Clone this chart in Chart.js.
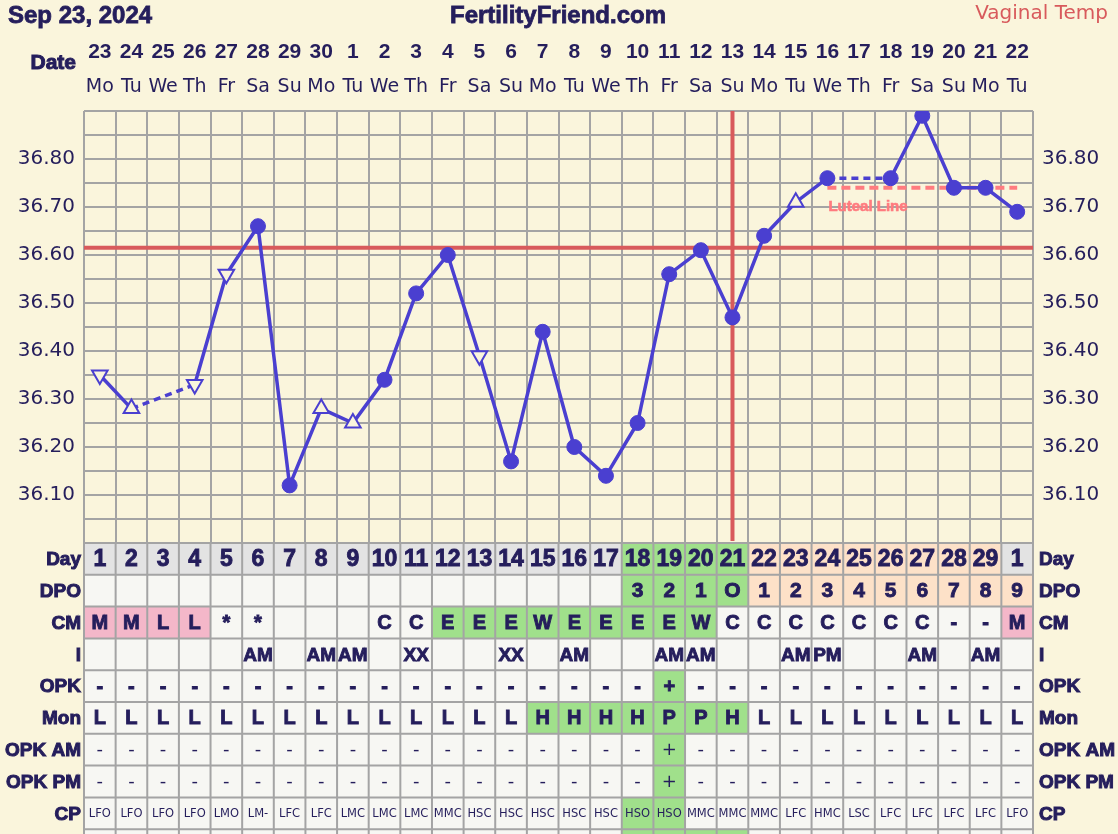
<!DOCTYPE html>
<html>
<head>
<meta charset="utf-8">
<script src="https://cdn.jsdelivr.net/npm/chart.js@4.4.1/dist/chart.umd.min.js"></script>
<style>
html,body{margin:0;padding:0;background:#faf5dc;}
#wrap{width:1118px;height:834px;position:relative;overflow:hidden;}
</style>
</head>
<body>
<div id="wrap"><canvas id="ffChart" width="1118" height="834"></canvas></div>
<script>
// ---- data ----
var dateLabels=['23','24','25','26','27','28','29','30','1','2','3','4','5','6','7','8','9','10','11','12','13','14','15','16','17','18','19','20','21','22'];
var weekdays=['Mo','Tu','We','Th','Fr','Sa','Su','Mo','Tu','We','Th','Fr','Sa','Su','Mo','Tu','We','Th','Fr','Sa','Su','Mo','Tu','We','Th','Fr','Sa','Su','Mo','Tu'];
var temps=[36.35,36.28,null,36.33,36.56,36.66,36.12,36.28,36.25,36.34,36.52,36.60,36.39,36.17,36.44,36.20,36.14,36.25,36.56,36.61,36.47,36.64,36.71,36.76,null,36.76,36.89,36.74,36.74,36.69];
// o = recorded temp, v / ^ = open triangle marker
var markers=['v','^','','v','v','o','o','^','^','o','o','o','v','o','o','o','o','o','o','o','o','o','^','o','','o','o','o','o','o'];
var coverline=36.615;
var ovulationDay=21;
var lutealFrom=24;
var lutealTemp=36.74;
var fertileDays=[18,19,20,21];

var cycleDay=['1','2','3','4','5','6','7','8','9','10','11','12','13','14','15','16','17','18','19','20','21','22','23','24','25','26','27','28','29','1'];
var dpo=['','','','','','','','','','','','','','','','','','3','2','1','O','1','2','3','4','5','6','7','8','9'];
var cm=['M','M','L','L','*','*','','','','C','C','E','E','E','W','E','E','E','E','W','C','C','C','C','C','C','C','-','-','M'];
var intercourse=['','','','','','AM','','AM','AM','','XX','','','XX','','AM','','','AM','AM','','','AM','PM','','','AM','','AM',''];
var opk=['-','-','-','-','-','-','-','-','-','-','-','-','-','-','-','-','-','-','+','-','-','-','-','-','-','-','-','-','-','-'];
var monitor=['L','L','L','L','L','L','L','L','L','L','L','L','L','L','H','H','H','H','P','P','H','L','L','L','L','L','L','L','L','L'];
var opkAm=['-','-','-','-','-','-','-','-','-','-','-','-','-','-','-','-','-','-','+','-','-','-','-','-','-','-','-','-','-','-'];
var opkPm=['-','-','-','-','-','-','-','-','-','-','-','-','-','-','-','-','-','-','+','-','-','-','-','-','-','-','-','-','-','-'];
var cp=['LFO','LFO','LFO','LFO','LMO','LM-','LFC','LFC','LMC','LMC','LMC','MMC','HSC','HSC','HSC','HSC','HSC','HSO','HSO','MMC','MMC','MMC','LFC','HMC','LSC','LFC','LFC','LFC','LFC','LFO'];

// ---- look ----
var navy='#251e5c';
var cream='#faf5dc';
var gridCol='#a4a4a4';
var lineBlue='#4a3fd0';
var redLine='#d85a5c';
var cellWhite='#f7f7f3';
var cellGrey='#e3e3e3';
var cellGreen='#a0e08b';
var cellPeach='#fde1c8';
var cellPink='#f4b7c9';
var boldFont='"Liberation Sans", Arial, sans-serif';
var plainFont='"DejaVu Sans", Verdana, sans-serif';
var rowH=31.8;

function isFertile(i){ return fertileDays.indexOf(i+1)>=0; }

// heavy text: fill plus a thin stroke of the same colour
function heavyText(ctx,t,x,y,w){
	ctx.fillText(t,x,y);
	ctx.lineWidth=w||1;
	ctx.strokeStyle=ctx.fillStyle;
	ctx.strokeText(t,x,y);
}

var lutealData=temps.map(function(t,i){ return (i+1)>=lutealFrom ? lutealTemp : null; });

var tableRows=[
	{label:'Day',vals:cycleDay,font:'bold 23px '+boldFont,heavy:true,fill:function(i){
		if(isFertile(i)) return cellGreen;
		if(dpo[i]!=='' && cycleDay[i]!=='1') return cellPeach;
		return cellGrey;}},
	{label:'DPO',vals:dpo,font:'bold 21px '+boldFont,heavy:true,fill:function(i){
		if(isFertile(i)) return cellGreen;
		if(dpo[i]!=='') return cellPeach;
		return cellWhite;}},
	{label:'CM',vals:cm,font:'bold 20px '+boldFont,heavy:true,fill:function(i){
		if(cm[i]==='M'||cm[i]==='L') return cellPink;
		if(cm[i]==='E'||cm[i]==='W') return cellGreen;
		return cellWhite;}},
	{label:'I',vals:intercourse,font:'bold 19px '+boldFont,heavy:true,fill:function(){return cellWhite;}},
	{label:'OPK',vals:opk,font:'bold 20px '+boldFont,heavy:true,fill:function(i){return opk[i]==='+'?cellGreen:cellWhite;}},
	{label:'Mon',vals:monitor,font:'bold 20px '+boldFont,heavy:true,fill:function(i){return (monitor[i]==='H'||monitor[i]==='P')?cellGreen:cellWhite;}},
	{label:'OPK AM',vals:opkAm,font:'18px '+plainFont,fill:function(i){return opkAm[i]==='+'?cellGreen:cellWhite;}},
	{label:'OPK PM',vals:opkPm,font:'18px '+plainFont,fill:function(i){return opkPm[i]==='+'?cellGreen:cellWhite;}},
	{label:'CP',vals:cp,font:'11.5px '+plainFont,fill:function(i){return cp[i]==='HSO'?cellGreen:cellWhite;}},
	{label:'',vals:null,font:'',fill:function(i){return isFertile(i)?cellGreen:cellWhite;}}
];

var bgPlugin={
	id:'ffBg',
	beforeDraw:function(chart){
		var ctx=chart.ctx;
		ctx.save();
		ctx.fillStyle=cream;
		ctx.fillRect(0,0,chart.width,chart.height);
		ctx.textBaseline='middle';
		ctx.fillStyle=navy;
		ctx.font='bold 24px '+boldFont;
		ctx.textAlign='left';
		heavyText(ctx,'Sep 23, 2024',8,16,0.8);
		ctx.textAlign='center';
		heavyText(ctx,'FertilityFriend.com',558,16,0.8);
		ctx.font='bold 21px '+boldFont;
		ctx.textAlign='right';
		heavyText(ctx,'Date',76,63,1);
		ctx.fillStyle=redLine;
		ctx.font='20px '+plainFont;
		ctx.fillText('Vaginal Temp',1108,14);
		ctx.restore();
	}
};

var linesPlugin={
	id:'ffLines',
	beforeDatasetsDraw:function(chart){
		var ctx=chart.ctx, xs=chart.scales.x, ys=chart.scales.y, a=chart.chartArea;
		ctx.save();
		ctx.strokeStyle=redLine;
		ctx.lineWidth=4;
		var yc=ys.getPixelForValue(coverline);
		ctx.beginPath();ctx.moveTo(a.left,yc);ctx.lineTo(a.right,yc);ctx.stroke();
		var xo=xs.getPixelForValue(ovulationDay-1);
		ctx.beginPath();ctx.moveTo(xo,a.top);ctx.lineTo(xo,a.bottom-2);ctx.stroke();
		ctx.fillStyle='#ff7b7f';
		ctx.font='bold 15px '+boldFont;
		ctx.textAlign='left';
		ctx.textBaseline='middle';
		heavyText(ctx,'Luteal Line',xs.getPixelForValue(lutealFrom-1)+1,ys.getPixelForValue(lutealTemp)+19,0.6);
		ctx.restore();
	}
};

var tablePlugin={
	id:'ffTable',
	afterDraw:function(chart){
		var ctx=chart.ctx, xs=chart.scales.x, a=chart.chartArea;
		var half=(xs.getPixelForValue(1)-xs.getPixelForValue(0))/2;
		var top=a.bottom;
		ctx.save();
		for(var r=0;r<tableRows.length;r++){
			var row=tableRows[r];
			var y0=top+r*rowH;
			for(var i=0;i<dateLabels.length;i++){
				var cx=xs.getPixelForValue(i);
				ctx.fillStyle=row.fill(i);
				ctx.fillRect(cx-half,y0,half*2,rowH);
				var t=row.vals?row.vals[i]:'';
				if(t){
					ctx.fillStyle=navy;
					ctx.font=row.font;
					ctx.textAlign='center';
					ctx.textBaseline='middle';
					if(row.heavy) heavyText(ctx,t,cx,y0+rowH/2+1,0.9);
					else ctx.fillText(t,cx,y0+rowH/2+1);
				}
			}
			if(row.label){
				ctx.fillStyle=navy;
				ctx.font='bold 19px '+boldFont;
				ctx.textBaseline='middle';
				ctx.textAlign='right';
				heavyText(ctx,row.label,a.left-3,y0+rowH/2+1,1);
				ctx.textAlign='left';
				heavyText(ctx,row.label,a.right+6,y0+rowH/2+1,1);
			}
		}
		// table grid
		ctx.strokeStyle=gridCol;
		ctx.lineWidth=2;
		ctx.beginPath();
		for(var r2=0;r2<=tableRows.length;r2++){
			var yy=top+r2*rowH;
			ctx.moveTo(a.left,yy);ctx.lineTo(a.right,yy);
		}
		for(var k=0;k<=dateLabels.length;k++){
			var xx=xs.getPixelForValue(0)-half+k*half*2;
			ctx.moveTo(xx,top);ctx.lineTo(xx,chart.height);
		}
		ctx.stroke();
		ctx.restore();
	}
};

function yTick(value){
	var v=Math.round(value*100);
	if(v%10===0 && v>=3610 && v<=3680) return (v/100).toFixed(2);
	return '';
}

var ctx=document.getElementById('ffChart').getContext('2d');
var myChart=new Chart(ctx,{
	type:'line',
	data:{
		labels:dateLabels,
		datasets:[{
			label:'Temp',
			data:temps,
			order:0,
			borderColor:lineBlue,
			borderWidth:3.5,
			tension:0,
			spanGaps:true,
			segment:{
				borderDash:function(c){ return (c.p0.skip||c.p1.skip)?[7,5]:undefined; }
			},
			pointStyle:markers.map(function(m){return m==='o'?'circle':'triangle';}),
			pointRotation:markers.map(function(m){return m==='v'?180:0;}),
			pointRadius:markers.map(function(m){return m==='o'?7.5:9;}),
			pointBackgroundColor:markers.map(function(m){return m==='o'?lineBlue:cream;}),
			pointBorderColor:lineBlue,
			pointBorderWidth:markers.map(function(m){return m==='o'?1:2;}),
			xAxisID:'x',yAxisID:'y'
		},{
			label:'Luteal Line',
			data:lutealData,
			order:1,
			borderColor:'#ff7b7f',
			borderWidth:4,
			borderDash:[9,5],
			pointRadius:0,
			xAxisID:'x',yAxisID:'y'
		}]
	},
	options:{
		responsive:false,
		animation:false,
		events:[],
		layout:{padding:{left:0,right:0,top:0,bottom:291}},
		plugins:{legend:{display:false},tooltip:{enabled:false}},
		scales:{
			x:{
				type:'category',position:'top',offset:true,weight:2,
				grid:{offset:true,color:gridCol,lineWidth:2,drawTicks:false},
				border:{display:false},
				ticks:{font:{family:boldFont,weight:'bold',size:21},color:navy,padding:6,autoSkip:false,maxRotation:0,minRotation:0},
				afterFit:function(s){s.height=71;}
			},
			xw:{
				type:'category',position:'top',offset:true,weight:1,labels:weekdays,
				grid:{display:false,drawTicks:false},
				border:{display:false},
				ticks:{font:{family:plainFont,size:19},color:navy,padding:13,autoSkip:false,maxRotation:0,minRotation:0},
				afterFit:function(s){s.height=40;}
			},
			y:{
				position:'left',min:36.0,max:36.9,
				grid:{color:gridCol,lineWidth:2,drawTicks:false},
				border:{display:false},
				ticks:{stepSize:0.05,autoSkip:false,callback:yTick,font:{family:plainFont,size:20},color:navy,padding:9},
				afterFit:function(s){s.width=84;}
			},
			y2:{
				position:'right',min:36.0,max:36.9,
				grid:{display:false,drawTicks:false},
				border:{display:false},
				ticks:{stepSize:0.05,autoSkip:false,callback:yTick,font:{family:plainFont,size:20},color:navy,padding:9},
				afterFit:function(s){s.width=85;}
			}
		}
	},
	plugins:[bgPlugin,linesPlugin,tablePlugin]
});
</script>
</body>
</html>
